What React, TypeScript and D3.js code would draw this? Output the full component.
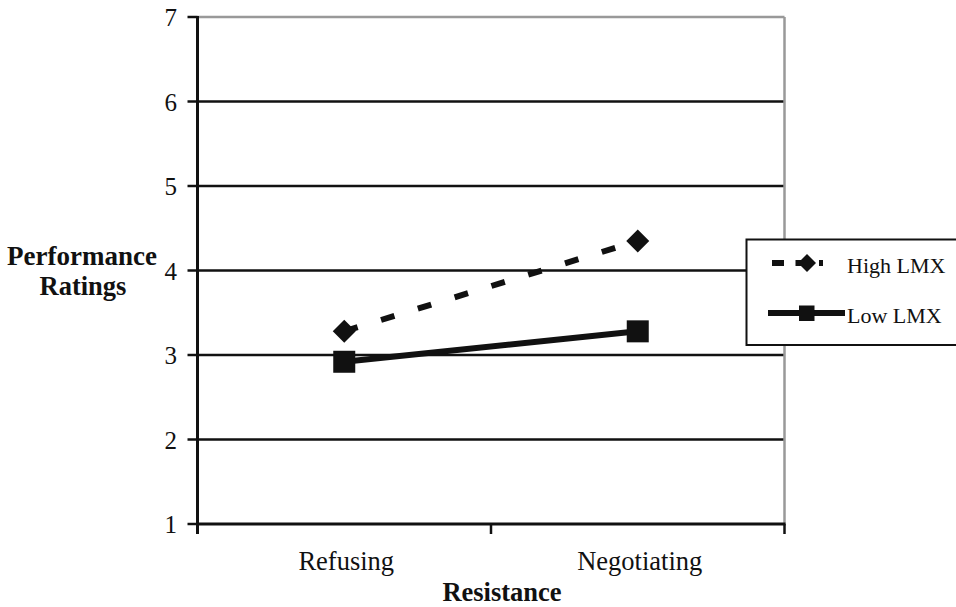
import React from "react";
import * as d3 from "d3";

const categories = ["Refusing", "Negotiating"];
const highLMX = [3.28, 4.35];
const lowLMX = [2.92, 3.28];
const yTicks = [1, 2, 3, 4, 5, 6, 7];
const seriesNames = ["High LMX", "Low LMX"];

const W = 956;
const H = 607;
const left = 197.5;
const right = 784.5;
const top = 17;
const bottom = 524;
const FONT = "'Liberation Serif', 'Times New Roman', serif";

export default function App() {
  const x = d3.scaleBand<string>().domain(categories).range([left, right]);
  const y = d3.scaleLinear().domain([1, 7]).range([bottom, top]);
  const cx = (c: string) => (x(c) ?? 0) + x.bandwidth() / 2;
  const line = d3
    .line<number>()
    .x((_, i) => cx(categories[i]))
    .y((d) => y(d));
  const diamondPath = (half: number) =>
    `M0,${-half}L${half},0L0,${half}L${-half},0Z`;
  const xBoundaries = [left, left + x.bandwidth(), right];

  return (
    <svg
      width={W}
      height={H}
      style={{ position: "absolute", left: 0, top: 0, background: "#fff" }}
      fontFamily={FONT}
    >
      <rect x={0} y={0} width={W} height={H} fill="#fff" />
      {/* grid lines */}
      {yTicks
        .filter((t) => t > 1 && t < 7)
        .map((t) => (
          <line
            key={"g" + t}
            x1={left}
            x2={right}
            y1={y(t)}
            y2={y(t)}
            stroke="#111"
            strokeWidth={2.5}
          />
        ))}
      {/* gray top and right border */}
      <line x1={left} x2={right} y1={y(7)} y2={y(7)} stroke="#999" strokeWidth={2.5} />
      <line x1={right} x2={right} y1={y(7)} y2={bottom} stroke="#999" strokeWidth={2.5} />
      {/* y axis */}
      <line x1={left} x2={left} y1={top - 1} y2={bottom + 10} stroke="#111" strokeWidth={3} />
      {yTicks.map((t) => (
        <g key={"yt" + t}>
          <line x1={left - 10} x2={left} y1={y(t)} y2={y(t)} stroke="#111" strokeWidth={2.5} />
          <text
            x={177}
            y={y(t) + 9}
            textAnchor="end"
            fontSize={25}
            fill="#111"
          >
            {t}
          </text>
        </g>
      ))}
      {/* x axis */}
      <line x1={left} x2={right + 1} y1={bottom} y2={bottom} stroke="#111" strokeWidth={3} />
      {xBoundaries.map((b, i) => (
        <line key={"xt" + i} x1={b} x2={b} y1={bottom} y2={bottom + 10} stroke="#111" strokeWidth={2.5} />
      ))}
      {categories.map((c) => (
        <text key={c} x={cx(c) + 2} y={570} textAnchor="middle" fontSize={26.5} fill="#111">
          {c}
        </text>
      ))}
      <text x={502} y={601} textAnchor="middle" fontSize={26.5} fontWeight="bold" fill="#111">
        Resistance
      </text>
      <text x={82} y={265} textAnchor="middle" fontSize={27} fontWeight="bold" fill="#111">
        Performance
      </text>
      <text x={83} y={295} textAnchor="middle" fontSize={26.5} fontWeight="bold" fill="#111">
        Ratings
      </text>

      {/* series */}
      <path
        d={line(highLMX) ?? ""}
        fill="none"
        stroke="#111"
        strokeWidth={6}
        strokeDasharray="14 24.5"
      />
      {highLMX.map((v, i) => (
        <path
          key={"hd" + i}
          d={diamondPath(11.5)}
          transform={`translate(${cx(categories[i])},${y(v)})`}
          fill="#111"
        />
      ))}
      <path d={line(lowLMX) ?? ""} fill="none" stroke="#111" strokeWidth={6} />
      {lowLMX.map((v, i) => (
        <rect
          key={"ls" + i}
          x={cx(categories[i]) - 11}
          y={y(v) - 11}
          width={22}
          height={22}
          fill="#111"
        />
      ))}

      {/* legend */}
      <rect x={746.5} y={239.5} width={230} height={105.5} fill="#fff" stroke="#111" strokeWidth={2} />
      <line x1={772} x2={823} y1={263} y2={263} stroke="#111" strokeWidth={6} strokeDasharray="12 11.5" />
      <path d={diamondPath(9)} transform="translate(807,263)" fill="#111" />
      <text x={847} y={273} fontSize={22} fill="#111">
        {seriesNames[0]}
      </text>
      <line x1={768} x2={845} y1={313} y2={313} stroke="#111" strokeWidth={6} />
      <rect x={799} y={305.5} width={15.5} height={15.5} fill="#111" />
      <text x={847} y={323} fontSize={22} fill="#111">
        {seriesNames[1]}
      </text>
    </svg>
  );
}
